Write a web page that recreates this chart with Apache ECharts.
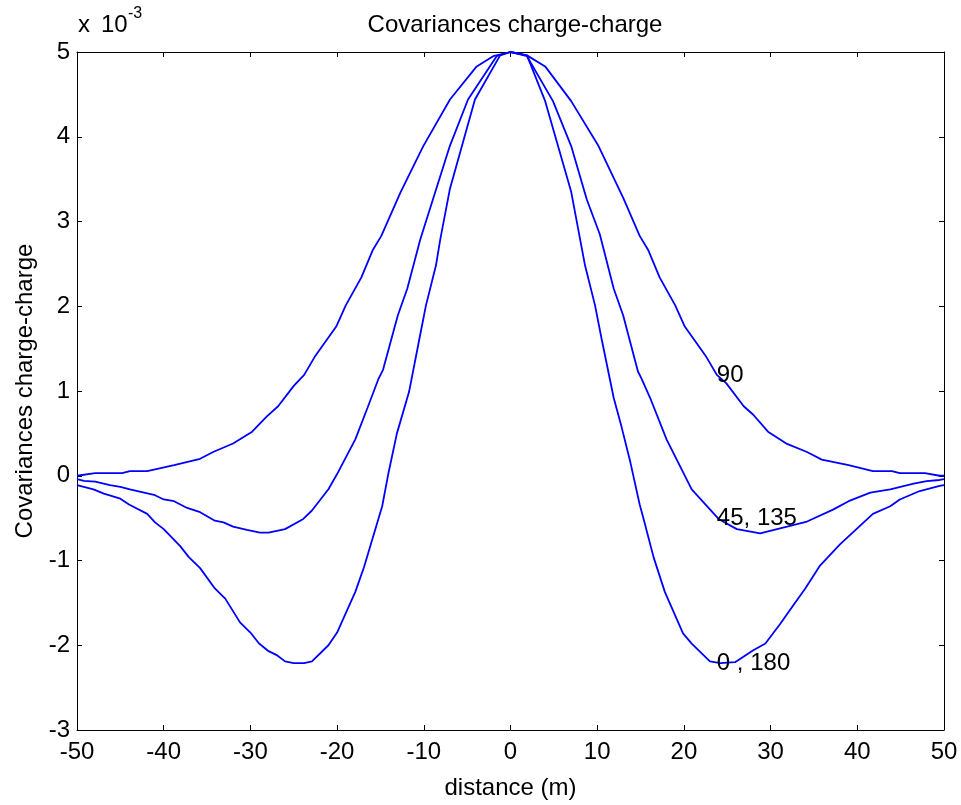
<!DOCTYPE html>
<html>
<head>
<meta charset="utf-8">
<script src="https://cdn.jsdelivr.net/npm/echarts@6/dist/echarts.min.js"></script>
<style>html,body{margin:0;padding:0;background:#fff;}#c{width:961px;height:805px;}</style>
</head>
<body>
<div id="c"></div>
<script>
// distances (m) and covariances (x 10^-3)
var dist90 = [-50,-47.9,-44.8,-43.9,-41.9,-38.8,-35.8,-34.3,-32,-29.8,-28.1,-26.8,-25.0,-23.8,-22.6,-20.1,-19.0,-17.2,-15.9,-14.9,-12.7,-10.06,-6.98,-3.9,-2.0,0,1.9,4.0,7.0,10.1,13.0,14.9,15.9,17.2,19.0,20.1,22.6,23.8,24.9,26.9,28.0,29.7,31.9,34.2,35.9,39.0,41.8,44.0,44.9,47.8,49.5,50];
var cov90  = [0.0,0.03,0.03,0.055,0.055,0.125,0.2,0.28,0.38,0.52,0.70,0.82,1.06,1.19,1.40,1.76,2.01,2.34,2.66,2.83,3.34,3.89,4.44,4.83,4.95,5.0,4.96,4.83,4.42,3.90,3.28,2.83,2.66,2.34,2.01,1.76,1.40,1.19,1.09,0.82,0.72,0.52,0.376,0.28,0.19,0.125,0.055,0.055,0.03,0.03,0.0,0.0];

var dist45 = [-50,-49.2,-47.9,-46.2,-45,-43.9,-41,-40,-38.8,-37.3,-35.8,-34.1,-33.1,-32.0,-30.4,-28.9,-27.9,-26.0,-23.9,-22.9,-21.0,-20.0,-17.9,-16.5,-15.2,-14.7,-13.0,-11.9,-10.4,-7.0,-4.9,-1.6,0,1.9,4.9,7.0,8.8,10.3,11.9,13.0,14.7,15.1,16.1,18.0,20.9,24.0,26.1,28.8,31.9,34.2,37.2,39.0,41.5,43.8,46.5,48.0,49.5,50];
var cov45  = [-0.04,-0.06,-0.07,-0.11,-0.13,-0.16,-0.23,-0.28,-0.30,-0.38,-0.43,-0.53,-0.55,-0.60,-0.64,-0.67,-0.67,-0.63,-0.51,-0.41,-0.16,0.02,0.43,0.80,1.15,1.25,1.89,2.21,2.79,3.89,4.44,4.95,5.0,4.95,4.42,3.89,3.26,2.85,2.21,1.89,1.23,1.15,0.92,0.43,-0.16,-0.51,-0.63,-0.68,-0.60,-0.54,-0.40,-0.30,-0.20,-0.16,-0.094,-0.063,-0.05,-0.04];

var dist0 = [-50,-48.1,-46.9,-45,-44.0,-41.9,-41.0,-40,-38.1,-37.1,-35.8,-34.1,-32.9,-31.2,-30.0,-29.0,-27.9,-26.9,-26.0,-25.0,-23.8,-22.9,-21.0,-20,-17.9,-16.9,-14.8,-14.1,-13.1,-11.7,-10.5,-9.75,-8.6,-8.1,-7.0,-4.1,-1.2,0,1.9,4.0,7.0,8.6,9.75,10.5,11.9,12.8,13.8,14.9,15.3,16.5,17.8,19.9,20.9,23.0,24.2,25.9,28.0,29.4,31.1,32.6,34.0,35.7,38.0,39.9,41.8,43.8,44.9,47.2,49.5,50];
var cov0  = [-0.11,-0.16,-0.21,-0.27,-0.34,-0.45,-0.55,-0.63,-0.83,-0.96,-1.09,-1.33,-1.45,-1.73,-1.85,-1.98,-2.07,-2.12,-2.19,-2.21,-2.21,-2.19,-2.0,-1.85,-1.37,-1.08,-0.36,0.02,0.50,0.99,1.62,2.01,2.48,2.79,3.38,4.44,4.96,5.0,4.96,4.42,3.35,2.48,2.01,1.62,0.92,0.58,0.17,-0.34,-0.49,-0.96,-1.37,-1.86,-1.98,-2.19,-2.21,-2.20,-2.06,-1.98,-1.75,-1.53,-1.33,-1.06,-0.81,-0.63,-0.45,-0.36,-0.28,-0.18,-0.12,-0.11];

var labelX = [23.8, 23.8, 23.8];
var labelY = [1.19, -0.50, -2.21];
var labelText = ['90', '45, 135', '0 , 180'];

var xTicks = {min: -50, max: 50, interval: 10};
var yTicks = {min: -3, max: 5, interval: 1};

function pairs(xs, ys) { return xs.map(function (x, i) { return [x, ys[i]]; }); }

var FONT = 'Liberation Sans, Arial, Helvetica, sans-serif';
var FS = 24;
var chart = echarts.init(document.getElementById('c'), null, {renderer: 'canvas'});

function axisCommon() {
  return {
    type: 'value',
    axisLine: {show: true, onZero: false, lineStyle: {color: '#000', width: 1}},
    axisTick: {show: true, inside: true, length: 5, lineStyle: {color: '#000', width: 1}},
    splitLine: {show: false}
  };
}

function lineSeries(xs, ys) {
  return {
    type: 'line', data: pairs(xs, ys), showSymbol: false, symbol: 'none',
    lineStyle: {color: '#0000ff', width: 1.8}, itemStyle: {color: '#0000ff'},
    animation: false, silent: true, z: 3
  };
}

chart.setOption({
  backgroundColor: '#fff',
  animation: false,
  title: {
    text: 'Covariances charge-charge', left: 510, top: 8, textAlign: 'center',
    textStyle: {fontFamily: FONT, fontSize: FS, fontWeight: 'normal', color: '#000'}
  },
  grid: {left: 77, right: 17, top: 52, bottom: 72, containLabel: false},
  xAxis: [
    Object.assign(axisCommon(), {
      position: 'bottom', min: xTicks.min, max: xTicks.max, interval: xTicks.interval,
      name: 'distance (m)', nameLocation: 'middle', nameGap: 46,
      nameTextStyle: {fontFamily: FONT, fontSize: FS, color: '#000'},
      axisLabel: {fontFamily: FONT, fontSize: FS, color: '#000', margin: 10}
    }),
    Object.assign(axisCommon(), {
      position: 'top', min: xTicks.min, max: xTicks.max, interval: xTicks.interval,
      axisLabel: {show: false}
    })
  ],
  yAxis: [
    Object.assign(axisCommon(), {
      position: 'left', min: yTicks.min, max: yTicks.max, interval: yTicks.interval,
      name: 'Covariances charge-charge', nameLocation: 'middle', nameGap: 38, nameRotate: 90,
      nameTextStyle: {fontFamily: FONT, fontSize: FS, color: '#000'},
      axisLabel: {fontFamily: FONT, fontSize: FS, color: '#000', margin: 7}
    }),
    Object.assign(axisCommon(), {
      position: 'right', min: yTicks.min, max: yTicks.max, interval: yTicks.interval,
      axisLabel: {show: false}
    })
  ],
  graphic: [
    {type: 'text', left: 78, top: 13, style: {text: 'x', fontFamily: FONT, fontSize: FS, fill: '#000'}},
    {type: 'text', left: 101, top: 13, style: {text: '10', fontFamily: FONT, fontSize: FS, fill: '#000'}},
    {type: 'text', left: 128, top: 6, style: {text: '-3', fontFamily: FONT, fontSize: 16, fill: '#000'}}
  ],
  series: [
    lineSeries(dist90, cov90),
    lineSeries(dist45, cov45),
    lineSeries(dist0, cov0),
    {
      type: 'scatter', symbolSize: 0, silent: true, z: 5,
      itemStyle: {opacity: 1},
      data: labelX.map(function (x, i) { return {value: [x, labelY[i]], name: labelText[i]}; }),
      label: {
        show: true, position: 'right', distance: 0, opacity: 1,
        formatter: function (p) { return p.name; },
        fontFamily: FONT, fontSize: FS, color: '#000'
      }
    }
  ]
});
</script>
</body>
</html>
